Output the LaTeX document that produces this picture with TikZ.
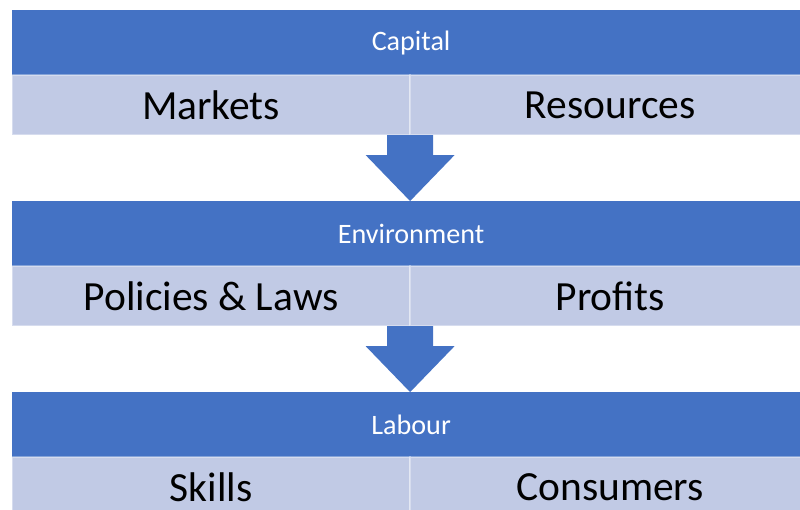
\documentclass[tikz,border=0pt]{standalone}
\usepackage{fontspec}
\setmainfont{Carlito}
\usetikzlibrary{positioning, calc}

\definecolor{barblue}{RGB}{68,114,196}
\definecolor{cellblue}{RGB}{193,202,229}

\begin{document}
\begin{tikzpicture}[
    x=0.025cm, y=-0.025cm,
    header/.style={rectangle, fill=barblue, text=white, minimum width=19.95cm, minimum height=1.625cm, inner sep=0pt, outer sep=0pt, font=\fontsize{20}{24}\selectfont},
    cell/.style={rectangle, fill=cellblue, draw=white, draw opacity=0.35, line width=1pt, minimum width=9.95cm, minimum height=1.5cm, inner sep=0pt, outer sep=0pt, font=\fontsize{29.5}{34}\selectfont},
    flow/.style={fill=barblue}
]
    \useasboundingbox (0,0) rectangle (800,509);

    \node[header, anchor=north west] (cap) at (12,10) {Capital};
    \node[cell, below right=0pt and 0pt of cap.south west] (mk) {Markets};
    \node[cell, right=0pt of mk, minimum width=10cm] (rs) {Resources};

    \node[header, below right=1.65cm and 0pt of mk.south west] (env) {Environment};
    \node[cell, below right=0pt and 0pt of env.south west] (pl) {Policies \& Laws};
    \node[cell, right=0pt of pl, minimum width=10cm] (pr) {Profits};

    \node[header, below right=1.65cm and 0pt of pl.south west] (lab) {Labour};
    \node[cell, below right=0pt and 0pt of lab.south west] (sk) {Skills};
    \node[cell, right=0pt of sk, minimum width=10cm] (cs) {Consumers};

    % block arrows between the levels
    \fill[flow] ($(mk.south east)+(-23,0)$) -- ($(mk.south east)+(-23,20)$) -- ($(mk.south east)+(-44.5,20)$)
        -- (mk.south east |- env.north) -- ($(mk.south east)+(44.5,20)$) -- ($(mk.south east)+(23,20)$)
        -- ($(mk.south east)+(23,0)$) -- cycle;
    \fill[flow] ($(pl.south east)+(-23,0)$) -- ($(pl.south east)+(-23,20)$) -- ($(pl.south east)+(-44.5,20)$)
        -- (pl.south east |- lab.north) -- ($(pl.south east)+(44.5,20)$) -- ($(pl.south east)+(23,20)$)
        -- ($(pl.south east)+(23,0)$) -- cycle;
\end{tikzpicture}
\end{document}
